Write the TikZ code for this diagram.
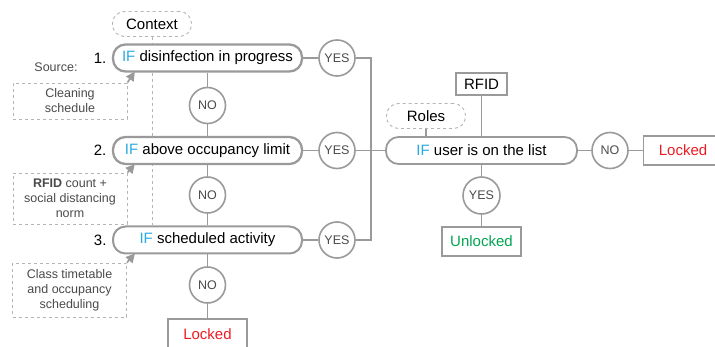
\documentclass[tikz,border=0pt]{standalone}
\usepackage{fontspec}
\setmainfont{Liberation Sans}
\usetikzlibrary{arrows.meta,positioning,backgrounds}

\definecolor{ifblue}{HTML}{29ABE2}
\definecolor{lockred}{HTML}{ED1C24}
\definecolor{okgreen}{HTML}{00A651}
\definecolor{linegray}{HTML}{9A9A9A}
\definecolor{dashgray}{HTML}{B4B4B4}
\definecolor{txtgray}{HTML}{4A4A4A}

\newcommand{\condkw}{\textcolor{ifblue}{IF}}

\tikzset{
  big/.style={font=\fontsize{15}{18}\selectfont},
  small/.style={font=\fontsize{12.5}{15}\selectfont},
  cond/.style={big, draw=linegray, line width=2pt, rounded corners=12.5pt,
    fill=white, minimum width=189pt, minimum height=27pt, inner sep=0pt},
  answer/.style={small, circle, draw=linegray, line width=1.6pt, fill=white,
    minimum size=36pt, inner sep=0pt, text=txtgray},
  result/.style={big, draw=linegray, line width=1.6pt, fill=white,
    minimum width=79pt, minimum height=29pt, inner sep=0pt},
  ctxbox/.style={big, draw=dashgray, dashed, line width=0.9pt, rounded corners=12pt,
    fill=white, minimum width=79pt, minimum height=25pt, inner sep=0pt},
  source/.style={draw=dashgray, dashed, line width=0.9pt, minimum width=114pt,
    align=center, text=txtgray, inner sep=0pt, font=\fontsize{12.5}{15}\selectfont},
  wire/.style={draw=linegray, line width=1.6pt},
  feed/.style={draw=linegray, line width=1.6pt, -{Triangle[length=9pt,width=9pt]}},
}

\begin{document}
\begin{tikzpicture}[x=1pt,y=-1pt]
\useasboundingbox (0,0) rectangle (715,347);

\node[ctxbox] (ctx) at (152,24) {Context};

\node[cond, line width=2.3pt] (cond1) at (207.5,58) {\condkw{} disinfection in progress};
\node[cond, line width=2.3pt] (cond2) at (207.5,150.5) {\condkw{} above occupancy limit};
\node[cond] (cond3) at (207.5,240) {\condkw{} scheduled activity};
\node[big, left=2pt of cond1] (num1) {1.};
\node[big, left=2pt of cond2] (num2) {2.};
\node[big, left=2pt of cond3] (num3) {3.};

\node[answer] (no1) at (207.5,105.5) {NO};
\node[answer] (no2) at (207.5,195) {NO};
\node[answer] (no3) at (207.5,285) {NO};
\node[result, text=lockred, minimum height=30pt] (lock1) at (207.5,334) {Locked};

\node[answer] (yes1) at (337,58) {YES};
\node[answer] (yes2) at (337,150.5) {YES};
\node[answer] (yes3) at (337,240) {YES};
\coordinate (join) at (371,150.5);

\node[small, text=txtgray] (srclabel) at (56,67) {Source:};
\node[source, minimum height=36pt] (src1) at (70,101) {Cleaning\\schedule};
\node[source, minimum height=51pt] (src2) at (70,198.5) {\textbf{RFID} count +\\social distancing\\norm};
\node[source, minimum height=54pt] (src3) at (69.5,290) {Class timetable\\and occupancy\\scheduling};

\node[cond, line width=1.8pt, minimum width=191pt] (cond4) at (481.5,150.5) {\condkw{} user is on the list};
\node[big, draw=linegray, line width=1.6pt, fill=white, minimum width=51pt,
  minimum height=22pt, inner sep=0pt] (rfid) at (481.5,84) {RFID};
\node[ctxbox] (roles) at (426,116) {Roles};
\node[answer] (no4) at (610,150.5) {NO};
\node[result, text=lockred] (lock2) at (683,150.5) {Locked};
\node[answer, minimum size=37pt] (yes4) at (481.5,195.5) {YES};
\node[result, text=okgreen] (open) at (481.5,241.5) {Unlocked};

\begin{scope}[on background layer]
\draw[dashgray, dashed, line width=0.9pt] (ctx) -- (ctx |- cond3.north);
\end{scope}

\draw[wire] (cond1) -- (no1) -- (cond2) -- (no2) -- (cond3) -- (no3) -- (lock1);
\draw[wire] (cond1) -- (yes1);
\draw[wire] (cond2) -- (yes2);
\draw[wire] (cond3) -- (yes3);
\draw[wire] (yes1) -- (yes1 -| join) -- (yes3 -| join) -- (yes3);
\draw[wire] (yes2) -- (cond4);

\draw[feed] (src1.north east) -- ([xshift=23pt,yshift=1pt]cond1.south west);
\draw[feed] (src2.north east) -- ([xshift=23pt,yshift=1pt]cond2.south west);
\draw[feed] (src3.north east) -- ([xshift=23pt,yshift=1pt]cond3.south west);

\draw[wire] (rfid) -- (cond4);
\draw[wire, line width=1.2pt] (roles) -- (roles |- cond4.north);
\draw[wire] (cond4) -- (no4) -- (lock2);
\draw[wire] (cond4) -- (yes4) -- (open);
\end{tikzpicture}
\end{document}
